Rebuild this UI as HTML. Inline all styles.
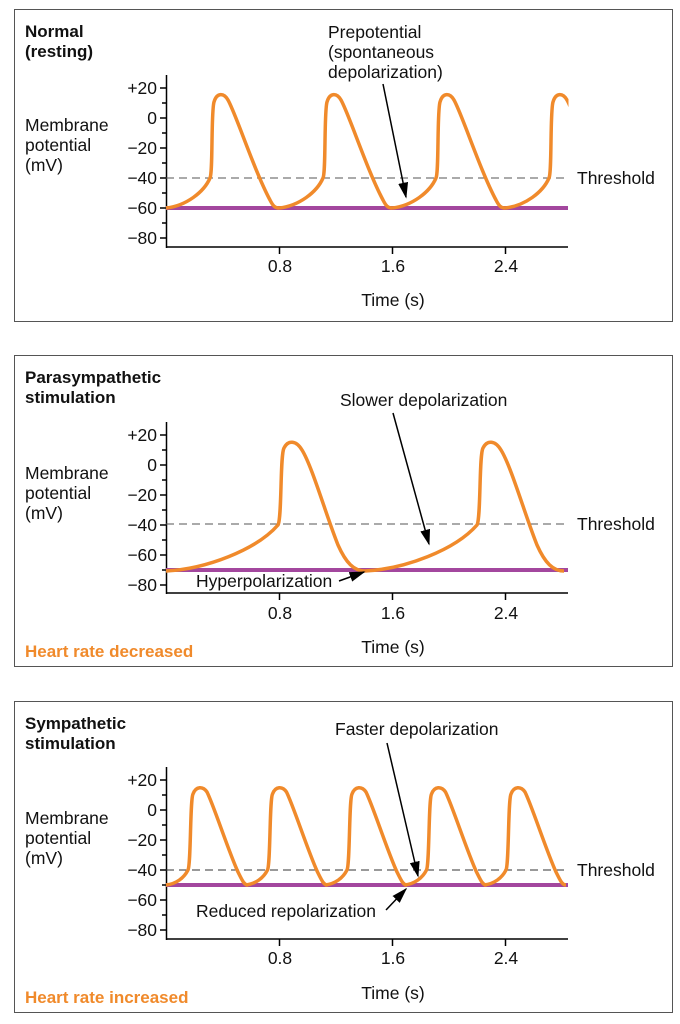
<!DOCTYPE html>
<html><head><meta charset="utf-8"><style>
body{margin:0;background:#fff}
svg{display:block}
text{font-family:"Liberation Sans",Arial,sans-serif;font-size:17.5px;fill:#111}
.b{font-weight:bold;font-size:17px}
.o{fill:#f08a2b;font-weight:bold;font-size:17px}
.t{text-anchor:end}
.c{text-anchor:middle}
</style></head><body>
<svg width="680" height="1024" viewBox="0 0 680 1024" xmlns="http://www.w3.org/2000/svg">
<defs>
<marker id="ar" viewBox="0 0 10 10" refX="9" refY="5" markerWidth="16" markerHeight="10" orient="auto-start-reverse" markerUnits="userSpaceOnUse" preserveAspectRatio="none"><path d="M0,0 L10,5 L0,10 z" fill="#000"/></marker>
<clipPath id="cp"><rect x="160" y="0" width="408.5" height="1024"/></clipPath>
<path id="c1" d="M0,208 C20,206 38,192 44,178 C47,172 45,112 48,102 C51,92 58,93 62,100 C70,114 88,170 104,200 C107,206 109,208 113,208" fill="none" stroke="#f08a2b" stroke-width="3.5" stroke-linejoin="round"/>
<path id="c2" d="M0,571 C40,569 90,550 112,525 C116,518 114,455 118,448 C122,440 130,440 136,450 C146,466 160,515 172,545 C180,563 188,571 199,571" fill="none" stroke="#f08a2b" stroke-width="3.5" stroke-linejoin="round"/>
<path id="c3" d="M0,885 C10,884 18,878 22,870 C25,864 24,800 27,794 C30,786 37,786 41,792 C48,806 62,850 72,872 C76,880 78,885 82,885" fill="none" stroke="#f08a2b" stroke-width="3.5" stroke-linejoin="round"/>
</defs>

<!-- Panel 1 -->
<rect x="14.5" y="9.5" width="658" height="312" fill="none" stroke="#555" stroke-width="1"/>
<text x="25" y="37" class="b">Normal</text>
<text x="25" y="57" class="b">(resting)</text>
<text x="25" y="131">Membrane</text>
<text x="25" y="151">potential</text>
<text x="25" y="171">(mV)</text>
<g stroke="#000" stroke-width="1.5">
<line x1="166.5" y1="75" x2="166.5" y2="248"/>
<line x1="166" y1="247" x2="568" y2="247"/>
<line x1="160" y1="88" x2="166" y2="88"/><line x1="162" y1="103" x2="166" y2="103"/>
<line x1="160" y1="118" x2="166" y2="118"/><line x1="162" y1="133" x2="166" y2="133"/>
<line x1="160" y1="148" x2="166" y2="148"/><line x1="162" y1="163" x2="166" y2="163"/>
<line x1="160" y1="178" x2="166" y2="178"/><line x1="162" y1="193" x2="166" y2="193"/>
<line x1="160" y1="208" x2="166" y2="208"/><line x1="162" y1="223" x2="166" y2="223"/>
<line x1="160" y1="238" x2="166" y2="238"/>
<line x1="279.5" y1="247" x2="279.5" y2="254"/><line x1="392.5" y1="247" x2="392.5" y2="254"/><line x1="505.5" y1="247" x2="505.5" y2="254"/>
</g>
<text x="157" y="94" class="t">+20</text><text x="157" y="124" class="t">0</text><text x="157" y="154" class="t">−20</text>
<text x="157" y="184" class="t">−40</text><text x="157" y="214" class="t">−60</text><text x="157" y="244" class="t">−80</text>
<text x="280" y="272" class="c">0.8</text><text x="393" y="272" class="c">1.6</text><text x="506" y="272" class="c">2.4</text>
<text x="393" y="306" class="c">Time (s)</text>
<line x1="166" y1="178" x2="568" y2="178" stroke="#555" stroke-width="1" stroke-dasharray="8,5"/>
<text x="577" y="184">Threshold</text>
<line x1="166" y1="208" x2="568" y2="208" stroke="#a3479e" stroke-width="4"/>
<g clip-path="url(#cp)">
<use href="#c1" x="166"/><use href="#c1" x="279"/><use href="#c1" x="392"/><use href="#c1" x="505"/>
</g>
<text x="328" y="38">Prepotential</text>
<text x="328" y="58">(spontaneous</text>
<text x="328" y="78">depolarization)</text>
<line x1="383" y1="84" x2="406" y2="197" stroke="#000" stroke-width="1.5" marker-end="url(#ar)"/>

<!-- Panel 2 -->
<rect x="14.5" y="355.5" width="658" height="311" fill="none" stroke="#555" stroke-width="1"/>
<text x="25" y="383" class="b">Parasympathetic</text>
<text x="25" y="403" class="b">stimulation</text>
<text x="25" y="479">Membrane</text>
<text x="25" y="499">potential</text>
<text x="25" y="519">(mV)</text>
<g stroke="#000" stroke-width="1.5">
<line x1="166.5" y1="422" x2="166.5" y2="594"/>
<line x1="166" y1="593" x2="568" y2="593"/>
<line x1="160" y1="435" x2="166" y2="435"/><line x1="162" y1="450" x2="166" y2="450"/>
<line x1="160" y1="465" x2="166" y2="465"/><line x1="162" y1="480" x2="166" y2="480"/>
<line x1="160" y1="495" x2="166" y2="495"/><line x1="162" y1="510" x2="166" y2="510"/>
<line x1="160" y1="525" x2="166" y2="525"/><line x1="162" y1="540" x2="166" y2="540"/>
<line x1="160" y1="555" x2="166" y2="555"/><line x1="162" y1="570" x2="166" y2="570"/>
<line x1="160" y1="585" x2="166" y2="585"/>
<line x1="279.5" y1="593" x2="279.5" y2="600"/><line x1="392.5" y1="593" x2="392.5" y2="600"/><line x1="505.5" y1="593" x2="505.5" y2="600"/>
</g>
<text x="157" y="441" class="t">+20</text><text x="157" y="471" class="t">0</text><text x="157" y="501" class="t">−20</text>
<text x="157" y="531" class="t">−40</text><text x="157" y="561" class="t">−60</text><text x="157" y="591" class="t">−80</text>
<text x="280" y="619" class="c">0.8</text><text x="393" y="619" class="c">1.6</text><text x="506" y="619" class="c">2.4</text>
<text x="393" y="653" class="c">Time (s)</text>
<text x="25" y="657" class="o">Heart rate decreased</text>
<line x1="166" y1="524" x2="568" y2="524" stroke="#555" stroke-width="1" stroke-dasharray="8,5"/>
<text x="577" y="530">Threshold</text>
<line x1="166" y1="570" x2="568" y2="570" stroke="#a3479e" stroke-width="4"/>
<g clip-path="url(#cp)">
<use href="#c2" x="166"/><use href="#c2" x="365"/>
</g>
<text x="340" y="406">Slower depolarization</text>
<line x1="393" y1="413" x2="429" y2="544" stroke="#000" stroke-width="1.5" marker-end="url(#ar)"/>
<text x="196" y="587">Hyperpolarization</text>
<line x1="339" y1="581" x2="364" y2="572" stroke="#000" stroke-width="1.5" marker-end="url(#ar)"/>

<!-- Panel 3 -->
<rect x="14.5" y="701.5" width="658" height="311" fill="none" stroke="#555" stroke-width="1"/>
<text x="25" y="729" class="b">Sympathetic</text>
<text x="25" y="749" class="b">stimulation</text>
<text x="25" y="824">Membrane</text>
<text x="25" y="844">potential</text>
<text x="25" y="864">(mV)</text>
<g stroke="#000" stroke-width="1.5">
<line x1="166.5" y1="767" x2="166.5" y2="940"/>
<line x1="166" y1="939" x2="568" y2="939"/>
<line x1="160" y1="780" x2="166" y2="780"/><line x1="162" y1="795" x2="166" y2="795"/>
<line x1="160" y1="810" x2="166" y2="810"/><line x1="162" y1="825" x2="166" y2="825"/>
<line x1="160" y1="840" x2="166" y2="840"/><line x1="162" y1="855" x2="166" y2="855"/>
<line x1="160" y1="870" x2="166" y2="870"/><line x1="162" y1="885" x2="166" y2="885"/>
<line x1="160" y1="900" x2="166" y2="900"/><line x1="162" y1="915" x2="166" y2="915"/>
<line x1="160" y1="930" x2="166" y2="930"/>
<line x1="279.5" y1="939" x2="279.5" y2="946"/><line x1="392.5" y1="939" x2="392.5" y2="946"/><line x1="505.5" y1="939" x2="505.5" y2="946"/>
</g>
<text x="157" y="786" class="t">+20</text><text x="157" y="816" class="t">0</text><text x="157" y="846" class="t">−20</text>
<text x="157" y="876" class="t">−40</text><text x="157" y="906" class="t">−60</text><text x="157" y="936" class="t">−80</text>
<text x="280" y="964" class="c">0.8</text><text x="393" y="964" class="c">1.6</text><text x="506" y="964" class="c">2.4</text>
<text x="393" y="999" class="c">Time (s)</text>
<text x="25" y="1003" class="o">Heart rate increased</text>
<line x1="166" y1="870" x2="568" y2="870" stroke="#333" stroke-width="1" stroke-dasharray="8,5"/>
<text x="577" y="876">Threshold</text>
<line x1="166" y1="885" x2="568" y2="885" stroke="#a3479e" stroke-width="4"/>
<g clip-path="url(#cp)">
<use href="#c3" x="166"/><use href="#c3" x="245.5"/><use href="#c3" x="325"/><use href="#c3" x="404.5"/><use href="#c3" x="484"/>
</g>
<text x="335" y="735">Faster depolarization</text>
<line x1="387" y1="743" x2="418" y2="876" stroke="#000" stroke-width="1.5" marker-end="url(#ar)"/>
<text x="196" y="917">Reduced repolarization</text>
<line x1="386" y1="910" x2="406" y2="889" stroke="#000" stroke-width="1.5" marker-end="url(#ar)"/>
</svg>
</body></html>
